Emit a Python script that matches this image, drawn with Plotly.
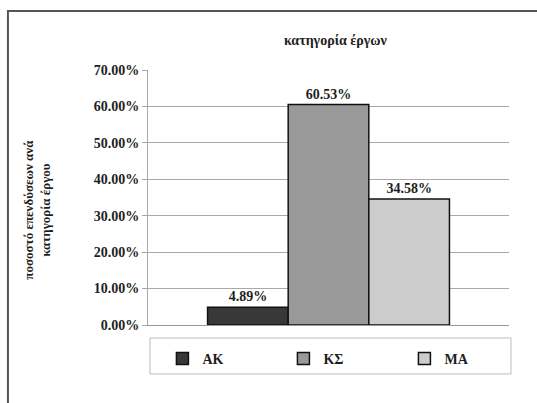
import plotly.graph_objects as go

categories = ["ΑΚ", "ΚΣ", "ΜΑ"]
values = [4.89, 60.53, 34.58]
colors = ["#383838", "#999999", "#cccccc"]
tick_vals = [0, 10, 20, 30, 40, 50, 60, 70]
tick_text = ["0.00%", "10.00%", "20.00%", "30.00%", "40.00%", "50.00%", "60.00%", "70.00%"]
chart_title = "κατηγορία έργων"
y_title_lines = ["ποσοστό επενδύσεων ανά", "κατηγορία έργου"]

FONT = "Liberation Serif, DejaVu Serif, serif"
TXT = "#1e1e1e"

def f(size):
    return dict(family=FONT, size=size, color=TXT, weight="bold")

fig = go.Figure()
for name, val, col in zip(categories, values, colors):
    fig.add_trace(go.Bar(
        x=[""], y=[val], name=name,
        marker=dict(color=col, line=dict(color="#111111", width=1.5)),
        text=[val], texttemplate="%{y:.2f}%", textposition="outside",
        textfont=f(14),
        cliponaxis=False,
    ))

fig.update_layout(
    width=537, height=403,
    margin=dict(l=148, r=26, t=70, b=78),
    paper_bgcolor="white", plot_bgcolor="white",
    barmode="group", bargap=0.33, bargroupgap=0,
    font=f(14),
    showlegend=True,
    legend=dict(
        orientation="h", x=1.0455, y=-0.07,
        xanchor="right", yanchor="top",
        itemwidth=30, entrywidth=76, entrywidthmode="pixels",
        font=f(14),
        bgcolor="rgba(0,0,0,0)", itemclick=False,
    ),
    xaxis=dict(showticklabels=False, showline=True, linecolor="#999999",
               linewidth=1, showgrid=False, zeroline=False, fixedrange=True),
    yaxis=dict(range=[0, 70], tickvals=tick_vals, ticktext=tick_text,
               showgrid=True, gridcolor="#a8a8a8", gridwidth=1,
               showline=True, linecolor="#a8a8a8", ticks="outside", ticklen=5,
               tickcolor="#a8a8a8", zeroline=False,
               tickfont=f(14)),
    annotations=[
        dict(text=chart_title, xref="paper", yref="paper", x=0.52, y=1.115,
             xanchor="center", yanchor="middle", showarrow=False, font=f(14)),
        dict(text="<br>".join(y_title_lines), xref="paper", yref="paper",
             x=-0.3085, y=0.451, xanchor="center", yanchor="middle",
             textangle=-90, showarrow=False, font=f(13)),
    ],
    shapes=[
        dict(type="rect", xref="paper", yref="paper", x0=-0.388, x1=1.2,
             y0=-0.5, y1=1.231, line=dict(color="#555555", width=2)),
        dict(type="rect", xref="paper", yref="paper", x0=0.0055, x1=1.0055,
             y0=-0.192, y1=-0.051, line=dict(color="#bbbbbb", width=1)),
    ],
)

fig.write_html("out.html", config={"displayModeBar": False},
               post_script="document.body.style.margin='0';document.documentElement.style.overflow='hidden';")
